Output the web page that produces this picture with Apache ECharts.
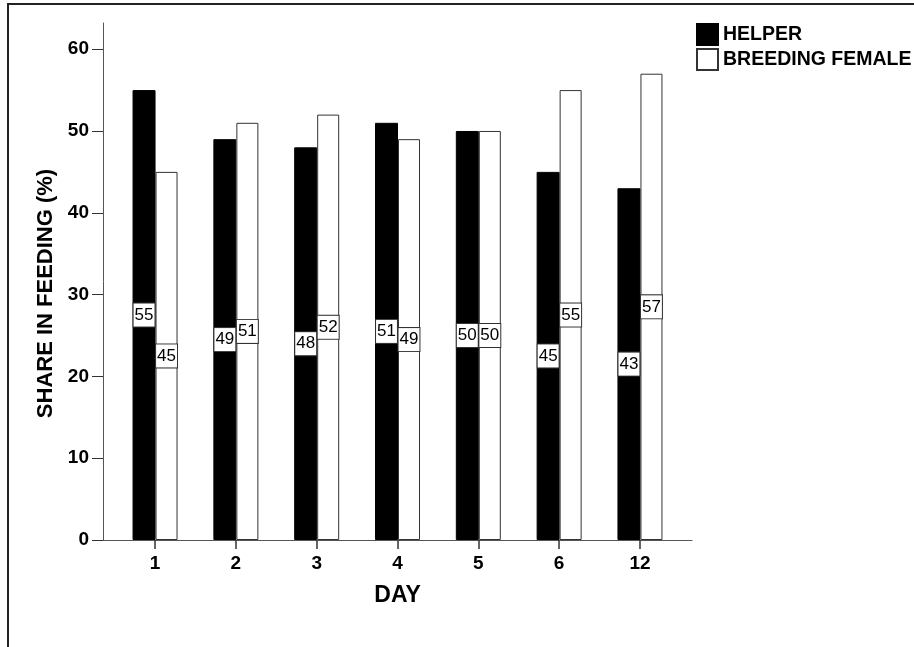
<!DOCTYPE html>
<html><head><meta charset="utf-8">
<script src="https://cdn.jsdelivr.net/npm/echarts@6/dist/echarts.min.js"></script>
<style>
html,body{margin:0;padding:0;background:#fff;}
#wrap{position:relative;width:914px;height:647px;overflow:hidden;}
#frame{position:absolute;left:7px;top:3px;width:1000px;height:1000px;border-left:2px solid #222;border-top:2px solid #222;box-sizing:border-box;}
#chart{position:absolute;left:0;top:0;width:914px;height:647px;}
</style></head>
<body><div id="wrap"><div id="frame"></div><div id="chart"></div></div>
<script>
const days = ['1','2','3','4','5','6','12'];
const helper = [55,49,48,51,50,45,43];
const breedingFemale = [45,51,52,49,50,55,57];
const yTicks = [0,10,20,30,40,50,60];

const font = "Arial, 'Liberation Sans', sans-serif";
const positions = days.map((d,i)=>i+1);
const chart = echarts.init(document.getElementById('chart'), null, {renderer:'canvas'});
const labelStyle = {
  show:true, position:'inside', formatter:p=>p.value[1],
  fontFamily:font, fontSize:17, color:'#000', lineHeight:20,
  backgroundColor:'#fff', borderColor:'#333', borderWidth:1, padding:[2,1,1,1]
};
chart.setOption({
  animation:false,
  backgroundColor:'transparent',
  grid:{left:103, right:222, top:23, bottom:107, containLabel:false},
  legend:{
    orient:'vertical', left:696, top:23, padding:0, itemWidth:21, itemHeight:21, itemGap:2,
    icon:'rect',
    textStyle:{fontFamily:font, fontSize:19.5, fontWeight:'bold', color:'#000', padding:[0,0,0,0]},
    data:['HELPER','BREEDING FEMALE']
  },
  xAxis:{
    type:'value', min:0.356, max:7.644,
    axisLine:{show:true, lineStyle:{color:'#555', width:1}},
    axisTick:{show:true, customValues:positions, length:9, lineStyle:{color:'#333', width:1.5}},
    axisLabel:{show:true, customValues:positions, formatter:v=>days[Math.round(v)-1],
      fontFamily:font, fontSize:19, fontWeight:'bold', color:'#000', margin:14},
    splitLine:{show:false},
    name:'DAY', nameLocation:'middle', nameGap:44,
    nameTextStyle:{fontFamily:font, fontSize:23, fontWeight:'bold', color:'#000'}
  },
  yAxis:{
    type:'value', min:0, max:63.2,
    axisLine:{show:true, lineStyle:{color:'#555', width:1}},
    axisTick:{show:true, customValues:yTicks, length:11, lineStyle:{color:'#333', width:1}},
    axisLabel:{show:true, customValues:yTicks, fontFamily:font, fontSize:19, fontWeight:'bold', color:'#000', margin:14},
    splitLine:{show:false},
    name:'SHARE IN FEEDING (%)', nameLocation:'middle', nameGap:39, nameRotate:90,
    nameTextStyle:{fontFamily:font, fontSize:22, fontWeight:'bold', color:'#000', padding:[0,24,0,0]}
  },
  series:[
    {name:'HELPER', type:'bar', barWidth:23, barGap:'0%',
     data:helper.map((v,i)=>[positions[i], v]),
     itemStyle:{color:'#000', borderColor:'#000', borderWidth:1},
     label:labelStyle},
    {name:'BREEDING FEMALE', type:'bar', barWidth:22, barGap:'0%',
     data:breedingFemale.map((v,i)=>[positions[i], v]),
     itemStyle:{color:'#fff', borderColor:'#333', borderWidth:1},
     label:labelStyle}
  ]
});
</script></body></html>
